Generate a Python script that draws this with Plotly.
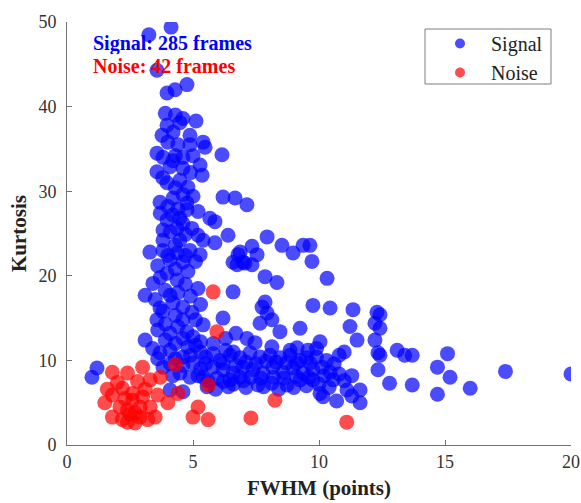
import plotly.graph_objects as go

# ---- data ----
signal_x = [4.13, 3.25, 3.57, 3.97, 4.29, 4.76, 3.97, 4.48, 5.12, 3.77, 4.21, 4.88, 5.4,
            3.57, 3.81, 4.40, 4.88, 5.48, 6.15, 3.57, 4.09, 4.60, 5.28, 5.36, 3.97, 4.48, 4.80,
            3.69, 4.21, 4.76, 4.76, 6.19, 6.67, 7.14, 3.97, 4.48, 5.67, 5.87, 3.81, 4.37, 4.96, 6.39,
            3.81, 4.48, 5.40, 5.87, 3.29, 3.81, 4.37, 4.88, 5.28, 6.87, 4.09, 4.60, 6.59, 7.06,
            7.94, 8.53, 8.97, 9.37, 9.64, 9.72, 10.32, 6.79, 7.34, 7.54, 6.75, 6.98, 7.34,
            7.86, 8.33, 6.59, 7.86, 7.74, 9.76, 10.44, 11.35, 12.30,
            6.19, 7.94, 7.66, 8.13, 8.45, 9.25, 11.23, 12.22, 11.51, 12.22, 12.34, 12.34,
            10.04, 7.14, 7.46, 8.13, 8.85, 9.13, 9.56,
            6.07, 6.47, 6.87, 7.26, 7.66, 8.06, 8.45, 8.85, 9.25, 9.64, 10.12, 10.44,
            5.79, 6.19, 6.59, 6.98, 7.38, 7.78, 8.17, 8.57, 8.97, 9.37, 9.76,
            5.95, 6.47, 6.87, 7.58, 8.13, 8.73, 9.25, 9.76, 10.04, 10.16, 10.56, 11.11, 11.63, 11.63,
            12.42, 12.42, 12.42, 13.1, 13.4, 13.7, 15.1, 14.7, 15.2, 12.8, 13.7, 14.7, 16.0, 17.4, 20.0,
            1.19, 0.99, 3.10, 3.41, 3.10, 3.57, 3.69, 4.09, 4.37, 3.97, 4.96, 4.60, 4.09, 4.76, 5.0,
            3.69, 4.09, 4.60, 5.0, 3.81, 4.88, 4.09, 4.60, 5.56, 4.48,
            4.3, 4.6, 3.9, 4.0, 4.3, 4.6, 5.0, 4.2, 4.9, 3.8, 4.3, 4.6, 5.0, 4.0, 4.4, 3.7, 4.2, 5.2,
            4.6, 4.1, 4.7, 5.2, 4.3, 4.0, 4.7, 5.1, 3.6, 4.3, 4.8, 3.7, 4.7, 5.2, 3.9, 4.4, 4.9, 3.5,
            4.2, 4.6, 5.3, 3.8, 4.3, 5.1, 3.9, 4.4, 5.4, 3.6, 4.6, 5.3, 3.9, 4.3, 4.8, 5.3, 3.4, 4.3,
            4.9, 3.6, 4.1, 4.6, 5.3, 4.2,
            5.2, 5.5, 5.5, 5.8, 6.3, 6.6, 6.2, 6.7, 7.1, 7.5, 7.9, 8.3, 8.7, 9.1, 9.5, 9.9, 10.3, 10.6,
            10.8, 10.2, 9.6, 9.1, 8.6, 8.2, 7.7, 7.3, 7.0, 6.6, 6.2, 5.9, 6.4, 7.1, 7.8, 8.4, 9.0, 9.5,
            10.0, 10.4, 11.0, 11.3, 10.8, 9.9, 11.0, 5.8, 6.3, 6.7, 5.4, 5.6, 10.7, 11.3, 5.1]
signal_y = [49.4, 48.5, 44.3, 41.6, 42.0, 42.6, 37.8, 38.1, 38.3, 36.6, 37.0, 36.6, 35.8,
            34.5, 34.0, 35.5, 35.5, 35.2, 34.3, 32.3, 32.9, 32.7, 33.1, 31.9, 31.0, 31.3, 30.5,
            28.7, 29.2, 28.6, 27.8, 29.3, 29.2, 28.4, 26.6, 26.8, 26.8, 26.4, 25.4, 25.6, 25.6, 24.8,
            24.2, 24.2, 24.2, 23.9, 22.8, 23.0, 22.7, 23.0, 22.5, 22.8, 21.9, 21.6, 21.6, 21.5,
            24.6, 23.6, 22.7, 23.6, 23.6, 21.7, 19.7, 22.5, 23.5, 22.5, 21.3, 21.6, 21.3,
            19.9, 19.2, 18.1, 16.9, 16.3, 16.5, 16.2, 16.0, 15.7,
            15.0, 15.6, 14.4, 14.8, 13.4, 13.8, 14.0, 14.4, 12.4, 12.4, 10.9, 8.9,
            12.2, 12.6, 12.1, 11.6, 11.2, 11.5, 11.2,
            10.0, 10.6, 10.3, 10.9, 10.4, 10.6, 10.3, 10.6, 10.0, 9.7, 9.2, 8.6,
            9.2, 8.9, 8.5, 9.2, 8.9, 8.5, 9.2, 8.6, 9.1, 8.5, 8.9,
            7.9, 7.7, 8.0, 7.1, 7.3, 7.1, 7.7, 7.7, 6.1, 5.7, 7.7, 6.5, 6.5, 5.0,
            15.4, 13.8, 10.6, 11.2, 10.6, 10.6, 10.8, 9.2, 8.0, 7.3, 7.1, 6.0, 6.7, 8.7, 8.4,
            9.1, 8.0, 17.7, 19.1, 12.4, 14.8, 16.2, 17.7, 19.5, 20.3, 15.7, 14.8, 13.2, 13.4, 12.8,
            10.9, 11.2, 10.4, 9.7, 9.2, 8.0, 6.5, 6.3, 6.9, 8.5,
            39.0, 38.6, 39.2, 35.8, 34.2, 34.0, 34.2, 33.6, 32.2, 31.6, 30.4, 29.6, 29.4, 28.2, 27.9,
            27.4, 27.2, 27.6, 26.2, 25.2, 24.9, 24.8, 23.6, 22.4, 22.4, 21.7, 21.2, 20.8, 20.5, 19.8,
            19.0, 18.5, 18.3, 18.0, 17.6, 17.2, 16.8, 16.3, 16.6, 15.8, 15.3, 14.8, 14.3, 14.0, 14.2,
            13.6, 12.6, 12.2, 12.4, 12.0, 11.6, 11.0, 11.4, 10.2, 10.6, 10.2, 9.6, 9.4, 9.0, 8.2,
            8.2, 9.6, 10.4, 10.8, 11.2, 11.0, 9.7, 9.4, 9.8, 9.6, 9.9, 9.8, 9.7, 9.7, 10.3, 10.4, 10.0,
            9.6, 8.4, 8.2, 8.0, 8.1, 7.9, 8.0, 7.9, 8.0, 7.6, 7.2, 7.5, 6.6, 6.9, 6.8, 6.9, 6.6, 6.8,
            7.0, 7.2, 6.8, 7.6, 8.2, 10.6, 11.4, 11.0, 12.0, 12.6, 13.2, 8.0, 7.6, 5.2, 5.8, 11.8]

noise_x = [1.5, 1.8, 1.8, 1.8, 2.1, 2.2, 2.4, 2.4, 2.4, 2.6, 2.6, 2.8, 2.9, 2.9, 3.0, 3.0,
           3.2, 3.3, 3.3, 3.6, 3.7, 2.2, 2.7, 2.0, 3.1, 4.3, 4.4, 4.0, 5.0, 5.2, 5.6, 5.6,
           5.8, 5.95, 7.3, 8.25, 11.1, 2.5, 1.6, 2.3, 3.5, 2.7]
noise_y = [5.0, 8.6, 5.9, 3.3, 4.5, 6.7, 8.5, 4.1, 2.7, 6.1, 5.3, 7.5, 3.3, 4.5, 9.2, 5.7,
           3.0, 7.7, 4.5, 5.9, 8.0, 3.0, 3.8, 7.4, 6.6, 9.5, 6.1, 5.0, 3.3, 4.5, 3.0, 7.1,
           18.1, 13.4, 3.2, 5.3, 2.7, 3.6, 6.6, 5.5, 3.3, 2.6]

series_names = ["Signal", "Noise"]
x_ticks = [0, 5, 10, 15, 20]
y_ticks = [0, 10, 20, 30, 40, 50]

BLUE = "#0000FF"
RED = "#FF0000"
FONT = "Liberation Serif"

fig = go.Figure()
fig.add_trace(go.Scatter(x=signal_x, y=signal_y, mode="markers", name=series_names[0],
                         showlegend=False,
                         marker=dict(color=BLUE, size=15, opacity=0.7, line=dict(width=0))))
fig.add_trace(go.Scatter(x=noise_x, y=noise_y, mode="markers", name=series_names[1],
                         showlegend=False,
                         marker=dict(color=RED, size=15, opacity=0.7, line=dict(width=0))))
# legend entries (smaller symbols as in the reference)
fig.add_trace(go.Scatter(x=[None], y=[None], mode="markers", name=series_names[0],
                         legendgroup="a",
                         marker=dict(color=BLUE, size=10, opacity=0.7)))
fig.add_trace(go.Scatter(x=[None], y=[None], mode="markers", name=series_names[1],
                         legendgroup="b",
                         marker=dict(color=RED, size=10, opacity=0.7)))

fig.add_annotation(text="<b>Signal: 285 frames</b>", xref="paper", yref="paper",
                   x=0.050, y=1 - (43 - 22) / 423, xanchor="left", yanchor="middle",
                   showarrow=False, borderpad=0, height=22, valign="middle",
                   font=dict(family=FONT, size=20, color=BLUE))
fig.add_annotation(text="<b>Noise: 42 frames</b>", xref="paper", yref="paper",
                   x=0.050, y=1 - (66 - 22) / 423, xanchor="left", yanchor="middle",
                   showarrow=False, borderpad=0, height=22, valign="middle",
                   font=dict(family=FONT, size=20, color=RED))

# legend box
fig.add_shape(type="rect", xref="paper", yref="paper",
              x0=(425 - 67) / 504, x1=(551 - 67) / 504,
              y0=1 - (84 - 22) / 423, y1=1 - (29 - 22) / 423,
              line=dict(color="#7f7f7f", width=1), fillcolor="rgba(0,0,0,0)")

axis_common = dict(showgrid=False, zeroline=False, showline=True, linecolor="#707070",
                   linewidth=1, ticks="inside", ticklen=5, tickcolor="#707070",
                   automargin=False,
                   tickfont=dict(family=FONT, size=18, color="#333333"))

fig.update_layout(
    width=581, height=503,
    margin=dict(l=67, r=10, t=22, b=58),
    plot_bgcolor="white", paper_bgcolor="white",
    font=dict(family=FONT),
    xaxis=dict(range=[0, 20], tickvals=x_ticks,
               title=dict(text="<b>FWHM (points)</b>", font=dict(family=FONT, size=21, color="#222222"),
                          standoff=9),
               **axis_common),
    yaxis=dict(range=[0, 50], tickvals=y_ticks, ticklabelstandoff=6,
               title=dict(text="<b>Kurtosis</b>", font=dict(family=FONT, size=21, color="#222222"),
                          standoff=6),
               **axis_common),
    legend=dict(x=(429 - 67) / 504, y=1 - (24 - 22) / 423, xanchor="left", yanchor="top",
                bgcolor="rgba(0,0,0,0)", borderwidth=0, tracegroupgap=0, itemwidth=52,
                font=dict(family=FONT, size=20, color="#222222")),
)

fig.write_html("out.html")
